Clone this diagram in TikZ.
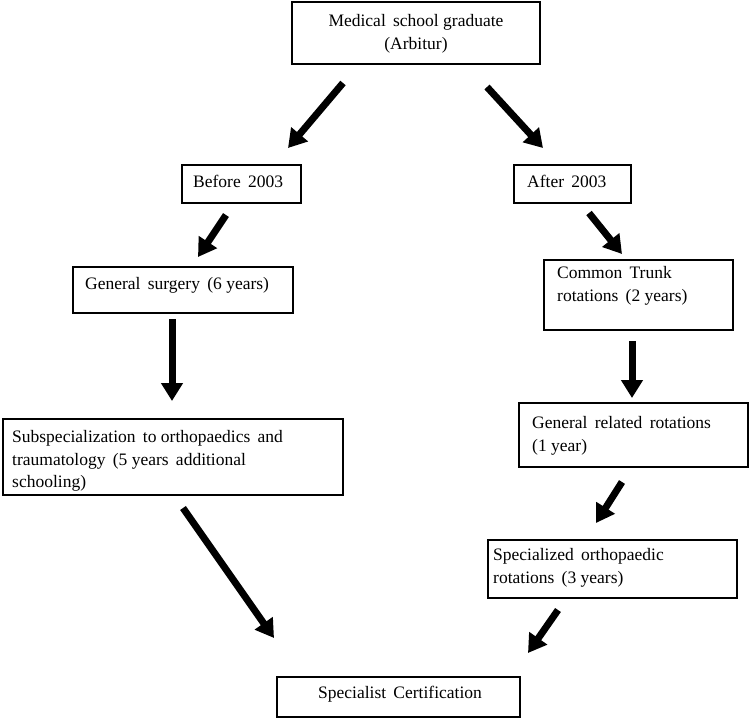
\documentclass[tikz,border=0pt]{standalone}
\usepackage{fontspec}
\setmainfont{Liberation Serif}
\usetikzlibrary{arrows.meta}
\tikzset{
  box/.style={draw, line width=1.6pt, inner sep=0pt},
  txt/.style={font=\fontsize{17.5}{23}\selectfont, inner sep=0pt},
  bigarrow/.style={line width=7pt, -{Triangle[length=18pt,width=21pt]}},
}
\begin{document}
\begin{tikzpicture}[x=1pt,y=-1pt]
\useasboundingbox (0,0) rectangle (750,720);
% boxes (corners in pixel coordinates)
\node[box, minimum width=248pt, minimum height=62pt] (top) at (416,33) {};
\node[box, minimum width=119pt, minimum height=38pt] (before) at (241.5,184) {};
\node[box, minimum width=117pt, minimum height=38pt] (after) at (572.5,184) {};
\node[box, minimum width=220pt, minimum height=46pt] (gs) at (183,290) {};
\node[box, minimum width=189pt, minimum height=70pt] (ct) at (638.5,295) {};
\node[box, minimum width=340pt, minimum height=76pt] (sub) at (173,457) {};
\node[box, minimum width=229pt, minimum height=64pt] (gr) at (633.5,435) {};
\node[box, minimum width=249pt, minimum height=58pt] (sp) at (612.5,569) {};
\node[box, minimum width=243pt, minimum height=40pt] (sc) at (398.5,697) {};
% texts
\node[txt, anchor=base] (top1) at (416,27) {Medical\, school graduate};
\node[txt, anchor=base] (top2) at (416,49) {(Arbitur)};
\node[txt, anchor=base west] (beforet) at (193,187) {Before\, 2003};
\node[txt, anchor=base west] (aftert) at (527,187) {After\, 2003};
\node[txt, anchor=base west] (gst) at (85,289) {General\, surgery\, (6 years)};
\node[txt, anchor=base west] (ct1) at (557,278) {Common\, Trunk};
\node[txt, anchor=base west] (ct2) at (557,301) {rotations\, (2 years)};
\node[txt, anchor=base west] (sub1) at (12,442) {Subspecialization\, to orthopaedics\, and};
\node[txt, anchor=base west] (sub2) at (12,465) {traumatology\, (5 years\, additional};
\node[txt, anchor=base west] (sub3) at (12,487) {schooling)};
\node[txt, anchor=base west] (gr1) at (532,428) {General\, related\, rotations};
\node[txt, anchor=base west] (gr2) at (532,451) {(1 year)};
\node[txt, anchor=base west] (sp1) at (493,560) {Specialized\, orthopaedic};
\node[txt, anchor=base west] (sp2) at (493,583) {rotations\, (3 years)};
\node[txt, anchor=base] (sct) at (400,698) {Specialist\, Certification};
% arrow end points
\coordinate (a1s) at (343,83);  \coordinate (a1e) at (288,148);
\coordinate (a2s) at (487,87);  \coordinate (a2e) at (543,148);
\coordinate (a3s) at (226,215); \coordinate (a3e) at (198,257);
\coordinate (a4s) at (589,213); \coordinate (a4e) at (622,254);
\coordinate (a5s) at (172,319); \coordinate (a5e) at (172,401);
\coordinate (a6s) at (632,341); \coordinate (a6e) at (632,398);
\coordinate (a7s) at (183,508); \coordinate (a7e) at (274,638);
\coordinate (a8s) at (622,482); \coordinate (a8e) at (596,523);
\coordinate (a9s) at (558,610); \coordinate (a9e) at (528,653);
\foreach \i in {1,...,9} {\draw[bigarrow] (a\i s) -- (a\i e);}
\end{tikzpicture}
\end{document}
